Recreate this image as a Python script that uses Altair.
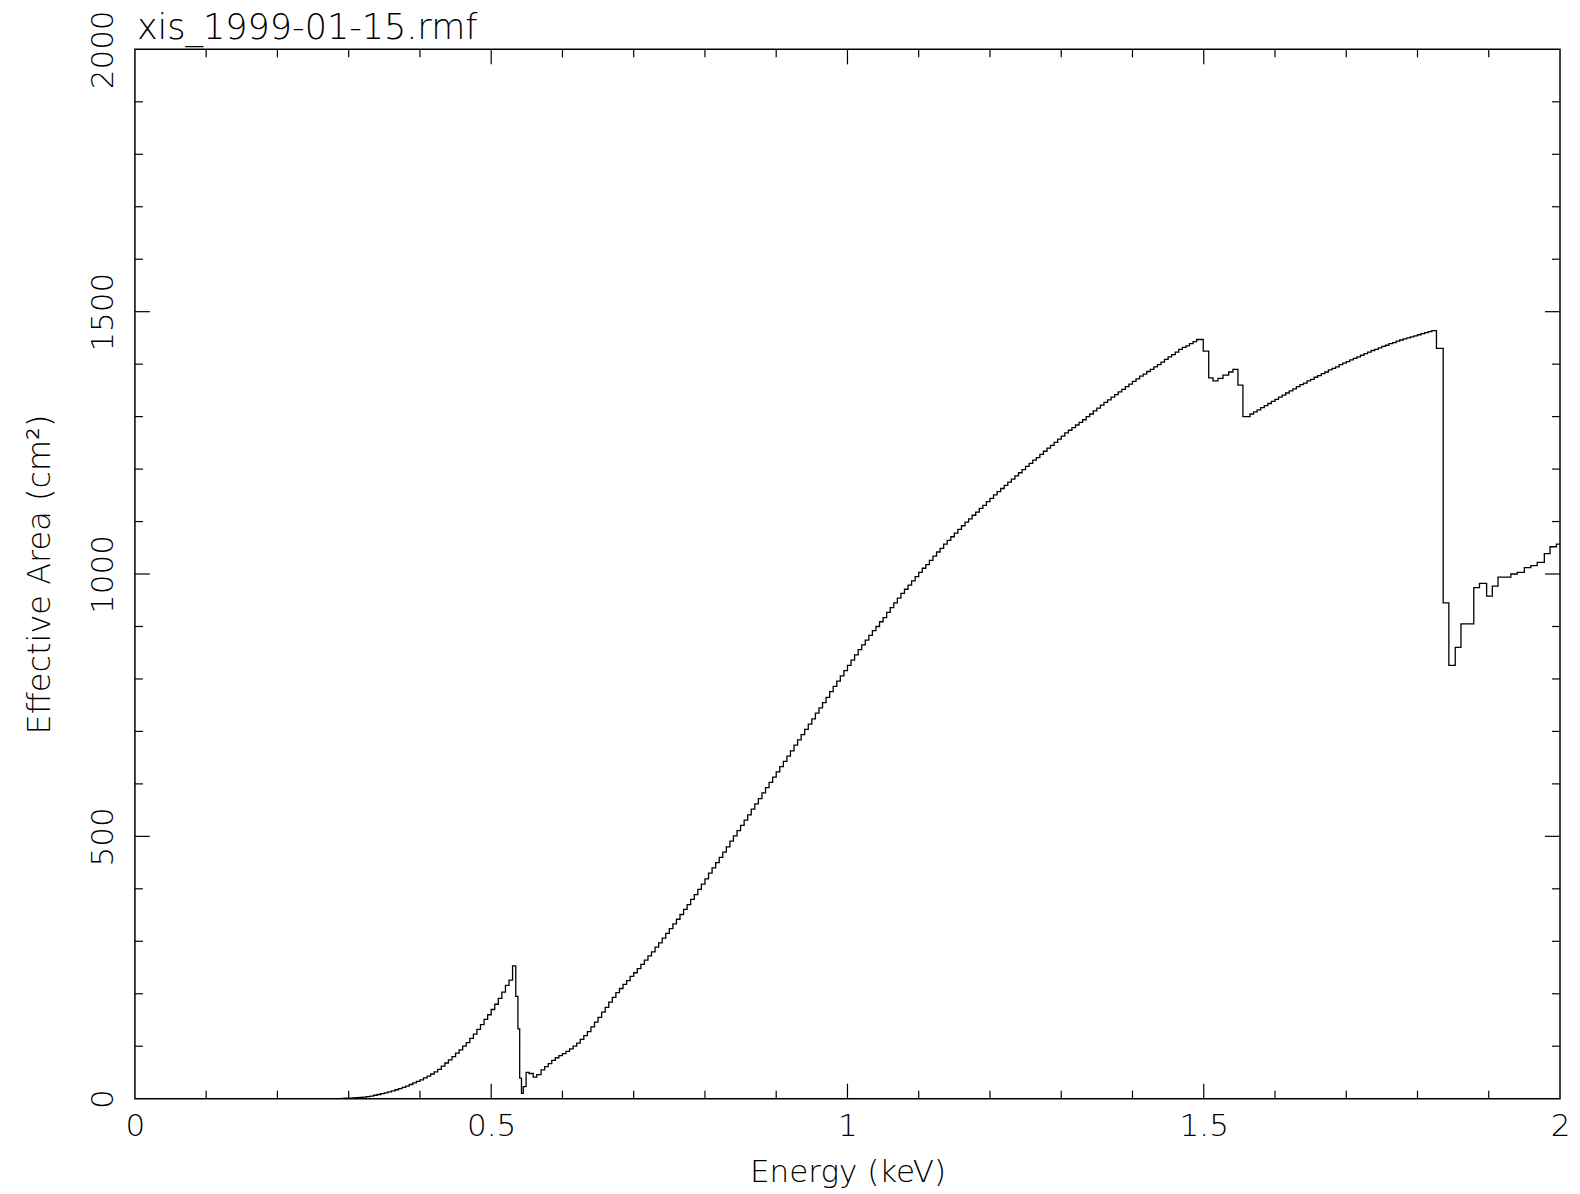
import altair as alt
import pandas as pd

# ---- text ----
title_text = "xis_1999-01-15.rmf"
x_title = "Energy (keV)"
y_title = "Effective Area (cm\u00b2)"

# ---- axis labels / ticks ----
x_label_values = [0, 0.5, 1, 1.5, 2]
y_label_values = [0, 500, 1000, 1500, 2000]
x_major_ticks = [0.5, 1.0, 1.5]
x_minor_ticks = [0.1, 0.2, 0.3, 0.4, 0.6, 0.7, 0.8, 0.9, 1.1, 1.2, 1.3, 1.4,
                 1.6, 1.7, 1.8, 1.9]
y_major_ticks = [500, 1000, 1500]
y_minor_ticks = [100, 200, 300, 400, 600, 700, 800, 900, 1100, 1200, 1300, 1400,
                 1600, 1700, 1800, 1900]

# ---- data: (bin start energy keV, effective area cm^2) ----
seg_low = [
    (0.200, 0), (0.280, 0), (0.285, 0.3), (0.290, 0.5), (0.295, 0.8), (0.300, 1),
    (0.305, 1.5), (0.310, 2), (0.315, 2.5), (0.320, 3), (0.325, 4), (0.330, 5),
    (0.335, 6.5), (0.340, 8), (0.345, 9.5), (0.350, 11), (0.355, 13), (0.360, 15),
    (0.365, 17), (0.370, 19), (0.375, 21.5), (0.380, 24), (0.385, 27), (0.390, 30),
    (0.395, 33), (0.400, 36), (0.405, 39.5), (0.410, 43), (0.415, 47), (0.420, 51),
    (0.425, 56), (0.430, 62), (0.435, 68), (0.440, 74), (0.445, 80), (0.450, 87),
    (0.455, 93), (0.460, 100), (0.465, 107), (0.470, 115), (0.475, 123), (0.480, 132),
    (0.485, 141), (0.490, 151), (0.495, 160),
]
seg_oxygen_edge = [
    (0.500, 170), (0.505, 180), (0.510, 191), (0.515, 203), (0.520, 216),
    (0.525, 226), (0.530, 253), (0.5345, 195), (0.5375, 133), (0.540, 39),
    (0.5425, 10), (0.545, 23), (0.549, 50), (0.553, 48), (0.559, 41),
    (0.564, 46),
]
seg_rise = [
    (0.570, 55), (0.575, 61), (0.580, 67), (0.585, 73), (0.590, 78), (0.595, 82),
    (0.600, 86), (0.605, 90), (0.610, 95), (0.615, 100), (0.620, 106), (0.625, 113),
    (0.630, 120), (0.635, 128), (0.640, 137), (0.645, 146), (0.650, 155), (0.655, 165),
    (0.660, 174), (0.665, 184), (0.670, 193), (0.675, 202), (0.680, 210), (0.685, 218),
    (0.690, 225), (0.695, 233), (0.700, 240), (0.705, 248), (0.710, 256), (0.715, 264),
    (0.720, 272), (0.725, 280), (0.730, 289), (0.735, 297), (0.740, 306), (0.745, 315),
    (0.750, 324), (0.755, 333), (0.760, 342), (0.765, 351), (0.770, 361), (0.775, 370),
    (0.780, 380), (0.785, 389), (0.790, 399), (0.795, 409), (0.800, 419), (0.805, 430),
    (0.810, 440), (0.815, 450), (0.820, 460), (0.825, 470), (0.830, 480), (0.835, 491),
    (0.840, 501), (0.845, 511), (0.850, 521), (0.855, 531), (0.860, 541), (0.865, 552),
    (0.870, 562), (0.875, 572), (0.880, 583), (0.885, 593), (0.890, 603), (0.895, 613),
    (0.900, 623), (0.905, 633), (0.910, 643), (0.915, 653), (0.920, 663), (0.925, 674),
    (0.930, 684), (0.935, 694), (0.940, 704), (0.945, 714), (0.950, 724), (0.955, 735),
    (0.960, 745), (0.965, 755), (0.970, 765), (0.975, 776), (0.980, 786), (0.985, 796),
    (0.990, 806), (0.995, 816),
]
seg_mid = [
    (1.000, 826), (1.005, 836), (1.010, 846), (1.015, 856), (1.020, 865), (1.025, 874),
    (1.030, 883), (1.035, 892), (1.040, 900), (1.045, 909), (1.050, 917), (1.055, 927),
    (1.060, 936), (1.065, 945), (1.070, 954), (1.075, 963), (1.080, 971), (1.085, 979),
    (1.090, 987), (1.095, 995), (1.100, 1003), (1.105, 1011), (1.110, 1018), (1.115, 1026),
    (1.120, 1034), (1.125, 1042), (1.130, 1049), (1.135, 1057), (1.140, 1064), (1.145, 1071),
    (1.150, 1078), (1.155, 1085), (1.160, 1092), (1.165, 1099), (1.170, 1105), (1.175, 1112),
    (1.180, 1118), (1.185, 1125), (1.190, 1131), (1.195, 1138), (1.200, 1144), (1.205, 1151),
    (1.210, 1157), (1.215, 1163), (1.220, 1169), (1.225, 1175), (1.230, 1181), (1.235, 1187),
    (1.240, 1193), (1.245, 1199), (1.250, 1205), (1.255, 1211), (1.260, 1217), (1.265, 1222),
    (1.270, 1228), (1.275, 1234), (1.280, 1240), (1.285, 1245), (1.290, 1251), (1.295, 1257),
    (1.300, 1263), (1.305, 1269), (1.310, 1274), (1.315, 1279), (1.320, 1284), (1.325, 1289),
    (1.330, 1294), (1.335, 1300), (1.340, 1305), (1.345, 1311), (1.350, 1316), (1.355, 1322),
    (1.360, 1327), (1.365, 1332), (1.370, 1337), (1.375, 1342), (1.380, 1347), (1.385, 1352),
    (1.390, 1357), (1.395, 1362), (1.400, 1367), (1.405, 1372), (1.410, 1377), (1.415, 1381),
    (1.420, 1386), (1.425, 1390), (1.430, 1395), (1.435, 1399), (1.440, 1404), (1.445, 1409),
    (1.450, 1414), (1.455, 1418), (1.460, 1423), (1.465, 1428), (1.470, 1432), (1.475, 1435),
    (1.480, 1439), (1.485, 1443), (1.490, 1447),
]
seg_mg_edge = [
    (1.4993, 1425), (1.507, 1374), (1.513, 1368), (1.520, 1373), (1.527, 1379),
    (1.535, 1385), (1.541, 1390), (1.548, 1360), (1.555, 1300),
]
seg_high = [
    (1.565, 1305), (1.570, 1309), (1.575, 1313), (1.580, 1317), (1.585, 1321), (1.590, 1325),
    (1.595, 1329), (1.600, 1333), (1.605, 1337), (1.610, 1341), (1.615, 1345), (1.620, 1349),
    (1.625, 1353), (1.630, 1357), (1.635, 1361), (1.640, 1364), (1.645, 1368), (1.650, 1371),
    (1.655, 1375), (1.660, 1378), (1.665, 1382), (1.670, 1385), (1.675, 1389), (1.680, 1392),
    (1.685, 1395), (1.690, 1399), (1.695, 1402), (1.700, 1405), (1.705, 1408), (1.710, 1411),
    (1.715, 1414), (1.720, 1417), (1.725, 1420), (1.730, 1423), (1.735, 1426), (1.740, 1428),
    (1.745, 1431), (1.750, 1434), (1.755, 1436), (1.760, 1439), (1.765, 1441), (1.770, 1444),
    (1.775, 1446), (1.780, 1448), (1.785, 1450), (1.790, 1452), (1.795, 1454), (1.800, 1456),
    (1.805, 1458), (1.810, 1460), (1.815, 1462), (1.820, 1464),
]
seg_si_edge = [
    (1.8266, 1430), (1.836, 945), (1.844, 826), (1.853, 860), (1.861, 905),
    (1.879, 974), (1.887, 982), (1.897, 958), (1.905, 977), (1.913, 994),
    (1.931, 1000), (1.940, 1003), (1.950, 1012), (1.959, 1016), (1.968, 1022),
    (1.978, 1039), (1.986, 1052), (1.995, 1057), (2.000, 1057),
]

rows = seg_low + seg_oxygen_edge + seg_rise + seg_mid + seg_mg_edge + seg_high + seg_si_edge
df = pd.DataFrame(rows, columns=["energy", "area"])

W, H = 1426, 1050
FONT = "DejaVu Sans"
FW = 200
TICK_MAJ, TICK_MIN = 15, 8

xscale = alt.Scale(domain=[0, 2], nice=False, zero=False)
yscale = alt.Scale(domain=[0, 2000], nice=False)

x_axis = alt.Axis(
    values=x_label_values, labelExpr="'' + datum.value", ticks=False, domain=False,
    grid=False, labelFont=FONT, labelFontWeight=FW, labelFontSize=31, labelColor="black",
    labelPadding=13, labelFlush=False, labelOverlap=False,
    title=x_title, titleFont=FONT, titleFontWeight=FW, titleFontSize=31,
    titleColor="black", titleY=83, titleBaseline="alphabetic",
)
y_axis = alt.Axis(
    values=y_label_values, labelExpr="'' + datum.value", ticks=False, domain=False,
    grid=False, labelAngle=270, labelAlign="center", labelBaseline="alphabetic",
    labelFont=FONT, labelFontWeight=FW, labelFontSize=31, labelColor="black",
    labelPadding=22, labelFlush=False, labelOverlap=False,
    title=y_title, titleFont=FONT, titleFontWeight=FW, titleFontSize=32,
    titleColor="black", titleAngle=270, titleAlign="center",
    titleBaseline="alphabetic", titleX=-85, titleY=H / 2,
)

line = alt.Chart(df).mark_line(
    interpolate="step-after", color="black", strokeWidth=1.3, clip=True
).encode(
    x=alt.X("energy:Q", scale=xscale, axis=x_axis),
    y=alt.Y("area:Q", scale=yscale, axis=y_axis),
)

def xticks(vals, length):
    d = pd.DataFrame({"v": vals})
    base = alt.Chart(d).mark_rule(color="black", strokeWidth=1.2)
    bottom = base.encode(x=alt.X("v:Q", scale=xscale, axis=x_axis),
                         y=alt.value(H), y2=alt.value(H - length))
    top = base.encode(x=alt.X("v:Q", scale=xscale, axis=x_axis),
                      y=alt.value(0), y2=alt.value(length))
    return [bottom, top]

def yticks(vals, length):
    d = pd.DataFrame({"v": vals})
    base = alt.Chart(d).mark_rule(color="black", strokeWidth=1.2)
    left = base.encode(y=alt.Y("v:Q", scale=yscale, axis=y_axis),
                       x=alt.value(0), x2=alt.value(length))
    right = base.encode(y=alt.Y("v:Q", scale=yscale, axis=y_axis),
                        x=alt.value(W - length), x2=alt.value(W))
    return [left, right]

title = alt.Chart(pd.DataFrame({"t": [title_text]})).mark_text(
    align="left", baseline="alphabetic", font=FONT, fontWeight=FW, fontSize=35,
    color="black", x=2, y=-10,
).encode(text="t:N")

layers = [line] + xticks(x_major_ticks, TICK_MAJ) + xticks(x_minor_ticks, TICK_MIN) \
    + yticks(y_major_ticks, TICK_MAJ) + yticks(y_minor_ticks, TICK_MIN) + [title]

chart = alt.layer(*layers).properties(
    width=W, height=H,
    autosize=alt.AutoSizeParams(type="none"),
    padding={"left": 127, "top": 41, "right": 12, "bottom": 95},
    background="white",
).configure_view(stroke="black", strokeWidth=1.5)

chart.save("out.html", embed_options={"renderer": "svg", "actions": False})
